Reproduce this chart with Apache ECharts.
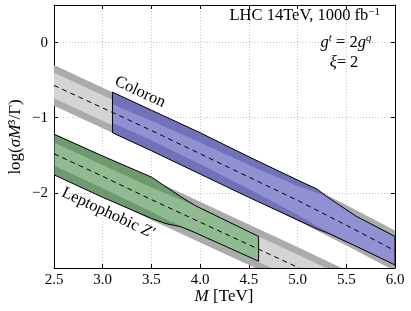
<!DOCTYPE html>
<html><head><meta charset="utf-8">
<script src="https://cdn.jsdelivr.net/npm/echarts/dist/echarts.min.js"></script>
<style>html,body{margin:0;padding:0;background:#fff}#c{width:411px;height:311px}</style>
</head><body><div id="c"></div>
<script>
// ---- data ----
const massGrid = [2.5, 3.0, 3.5, 4.0, 4.5, 5.0, 5.5, 6.0];
// Coloron expected line and grey (expected) bands
const coloronCentral = [-0.57, -0.87, -1.17, -1.48, -1.79, -2.10, -2.43, -2.77];
const coloronGrey2Up = [-0.30, -0.60, -0.90, -1.21, -1.52, -1.83, -2.16, -2.50];
const coloronGrey2Lo = [-0.84, -1.14, -1.44, -1.75, -2.06, -2.37, -2.70, -3.04];
const coloronGrey1Up = [-0.40, -0.70, -1.00, -1.31, -1.62, -1.93, -2.26, -2.60];
const coloronGrey1Lo = [-0.74, -1.04, -1.34, -1.65, -1.96, -2.27, -2.60, -2.94];
// Leptophobic Z' expected line and grey bands
const zpCentral = [-1.48, -1.78, -2.09, -2.39, -2.69, -2.99, -3.30, -3.60];
const zpGrey2Up = [-1.21, -1.51, -1.82, -2.12, -2.42, -2.72, -3.03, -3.33];
const zpGrey2Lo = [-1.75, -2.05, -2.36, -2.66, -2.96, -3.26, -3.57, -3.87];
const zpGrey1Up = [-1.31, -1.61, -1.92, -2.22, -2.52, -2.82, -3.13, -3.43];
const zpGrey1Lo = [-1.65, -1.95, -2.26, -2.56, -2.86, -3.16, -3.47, -3.77];
// Coloron coloured band
const coloronMass = [3.1, 3.5, 4.0, 4.5, 5.0, 5.2, 5.3, 5.6, 6.0];
const coloronOuterUp = [-0.66, -0.90, -1.20, -1.52, -1.83, -1.95, -2.05, -2.31, -2.58];
const coloronOuterLo = [-1.20, -1.44, -1.75, -2.06, -2.36, -2.48, -2.53, -2.71, -2.96];
const coloronInnerUp = [-0.82, -1.04, -1.33, -1.63, -1.91, -2.00, -2.05, -2.31, -2.58];
const coloronInnerLo = [-1.07, -1.30, -1.62, -1.95, -2.29, -2.44, -2.51, -2.71, -2.96];
// Leptophobic Z' coloured band
const zpMass = [2.5, 3.0, 3.5, 3.65, 3.8, 3.95, 4.6];
const zpOuterUp = [-1.22, -1.51, -1.79, -1.92, -2.05, -2.17, -2.58];
const zpOuterLo = [-1.76, -2.06, -2.34, -2.41, -2.45, -2.53, -2.91];
const zpInnerUp = [-1.33, -1.63, -1.93, -2.01, -2.09, -2.17, -2.58];
const zpInnerLo = [-1.64, -1.94, -2.25, -2.35, -2.44, -2.53, -2.91];
const yTicks = [-2, -1, 0];

// ---- chart ----
const FONT = '"Liberation Serif", "DejaVu Serif", serif';
const chart = echarts.init(document.getElementById('c'), null, {renderer: 'canvas'});

function band(xs, up, lo, fill, stroke, z) {
  return {
    type: 'custom', clip: true, silent: true, z: z,
    xAxisIndex: 0, yAxisIndex: 0,
    data: [[xs[0], up[0]]],
    renderItem: function (params, api) {
      const pts = [];
      for (let i = 0; i < xs.length; i++) pts.push(api.coord([xs[i], up[i]]));
      for (let i = xs.length - 1; i >= 0; i--) pts.push(api.coord([xs[i], lo[i]]));
      return {
        type: 'polygon', shape: {points: pts},
        style: {fill: fill || 'none', stroke: stroke || 'none', lineWidth: stroke ? 1 : 0}
      };
    }
  };
}
function dashed(xs, ys, z) {
  return {
    type: 'line', z: z, silent: true, showSymbol: false, symbol: 'none',
    data: xs.map((x, i) => [x, ys[i]]),
    lineStyle: {color: '#000', width: 1, type: [5, 4]},
    clip: true
  };
}

const G2 = '#ababab', G1 = '#d4d4d4';
const B2 = '#7272bb', B1 = '#9090d3';
const N2 = '#6f9a6f', N1 = '#90ba90';

const axisCommon = {
  axisLine: {show: true, onZero: false, lineStyle: {color: '#000', width: 1}},
  axisTick: {show: true, inside: true, length: 4, lineStyle: {color: '#000'}}
};
const AF = 16.5;

chart.setOption({
  animation: false,
  grid: {left: 54, right: 16, top: 5, bottom: 43},
  xAxis: [
    Object.assign({
      type: 'value', min: 2.5, max: 6.0, interval: 0.5, position: 'bottom',
      axisLabel: {color: '#000', fontFamily: FONT, fontSize: 15, margin: 5,
        formatter: v => v.toFixed(1)},
      splitLine: {show: true, lineStyle: {color: '#c4c4c4', type: [1, 2]}}
    }, axisCommon),
    Object.assign({
      type: 'value', min: 2.5, max: 6.0, interval: 0.5, position: 'top',
      axisLabel: {show: false}, splitLine: {show: false}
    }, axisCommon)
  ],
  yAxis: [
    Object.assign({
      type: 'value', min: -3, max: 0.5, interval: 1, position: 'left',
      axisLabel: {color: '#000', fontFamily: FONT, fontSize: 15, margin: 6,
        formatter: v => yTicks.indexOf(v) >= 0 ? (v < 0 ? '\u2212' + (-v) : String(v)) : ''},
      splitLine: {show: true, lineStyle: {color: '#c4c4c4', type: [1, 2]}}
    }, axisCommon),
    Object.assign({
      type: 'value', min: -3, max: 0.5, interval: 1, position: 'right',
      axisLabel: {show: false}, splitLine: {show: false}
    }, axisCommon)
  ],
  series: [
    band(massGrid, coloronGrey2Up, coloronGrey2Lo, G2, null, 1),
    band(massGrid, coloronGrey1Up, coloronGrey1Lo, G1, null, 2),
    band(massGrid, zpGrey2Up, zpGrey2Lo, G2, null, 1),
    band(massGrid, zpGrey1Up, zpGrey1Lo, G1, null, 2),
    band(coloronMass, coloronOuterUp, coloronOuterLo, B2, null, 3),
    band(coloronMass, coloronInnerUp, coloronInnerLo, B1, null, 4),
    band(coloronMass, coloronOuterUp, coloronOuterLo, null, '#000', 5),
    band(zpMass, zpOuterUp, zpOuterLo, N2, null, 3),
    band(zpMass, zpInnerUp, zpInnerLo, N1, null, 4),
    band(zpMass, zpOuterUp, zpOuterLo, null, '#000', 5),
    dashed(massGrid, coloronCentral, 6),
    dashed(massGrid, zpCentral, 6)
  ],
  graphic: [
    {type: 'text', right: 31, top: 7, z: 10,
     style: {text: 'LHC 14TeV, 1000 fb{s|\u22121}', fontFamily: FONT, fontSize: AF, fill: '#000',
       rich: {s: {fontFamily: FONT, fontSize: 11, verticalAlign: 'top', padding: [0, 0, 7, 0]}}}},
    {type: 'text', x: 346, y: 43, z: 10,
     style: {text: '{i|g}{s|t} = 2{i|g}{s|q}', fontFamily: FONT, fontSize: AF, fill: '#000', align: 'center', verticalAlign: 'middle',
       rich: {i: {fontFamily: FONT, fontSize: AF, fontStyle: 'italic'},
              s: {fontFamily: FONT, fontSize: 11, fontStyle: 'italic', padding: [0, 0, 9, 0]}}}},
    {type: 'text', x: 344, y: 63, z: 10,
     style: {text: '{i|\u03be}= 2', fontFamily: FONT, fontSize: AF, fill: '#000', align: 'center', verticalAlign: 'middle',
       rich: {i: {fontFamily: FONT, fontSize: AF, fontStyle: 'italic'}}}},
    {type: 'text', x: 140, y: 92, z: 10, rotation: -25 * Math.PI / 180,
     style: {text: 'Coloron', fontFamily: FONT, fontSize: AF, fill: '#000', align: 'center', verticalAlign: 'middle'}},
    {type: 'text', x: 108, y: 213, z: 10, rotation: -25 * Math.PI / 180,
     style: {text: 'Leptophobic {i|Z\u2032}', fontFamily: FONT, fontSize: AF, fill: '#000', align: 'center', verticalAlign: 'middle',
       rich: {i: {fontFamily: FONT, fontSize: AF, fontStyle: 'italic'}}}},
    {type: 'text', x: 224, y: 297, z: 10,
     style: {text: '{i|M} [TeV]', fontFamily: FONT, fontSize: 17, fill: '#000', align: 'center', verticalAlign: 'middle',
       rich: {i: {fontFamily: FONT, fontSize: 17, fontStyle: 'italic'}}}},
    {type: 'text', x: 16, y: 137, z: 10, rotation: Math.PI / 2,
     style: {text: 'log({i|\u03c3M}\u00b3/\u0393)', fontFamily: FONT, fontSize: 17, fill: '#000', align: 'center', verticalAlign: 'middle',
       rich: {i: {fontFamily: FONT, fontSize: 17, fontStyle: 'italic'}}}}
  ]
});
</script></body></html>
